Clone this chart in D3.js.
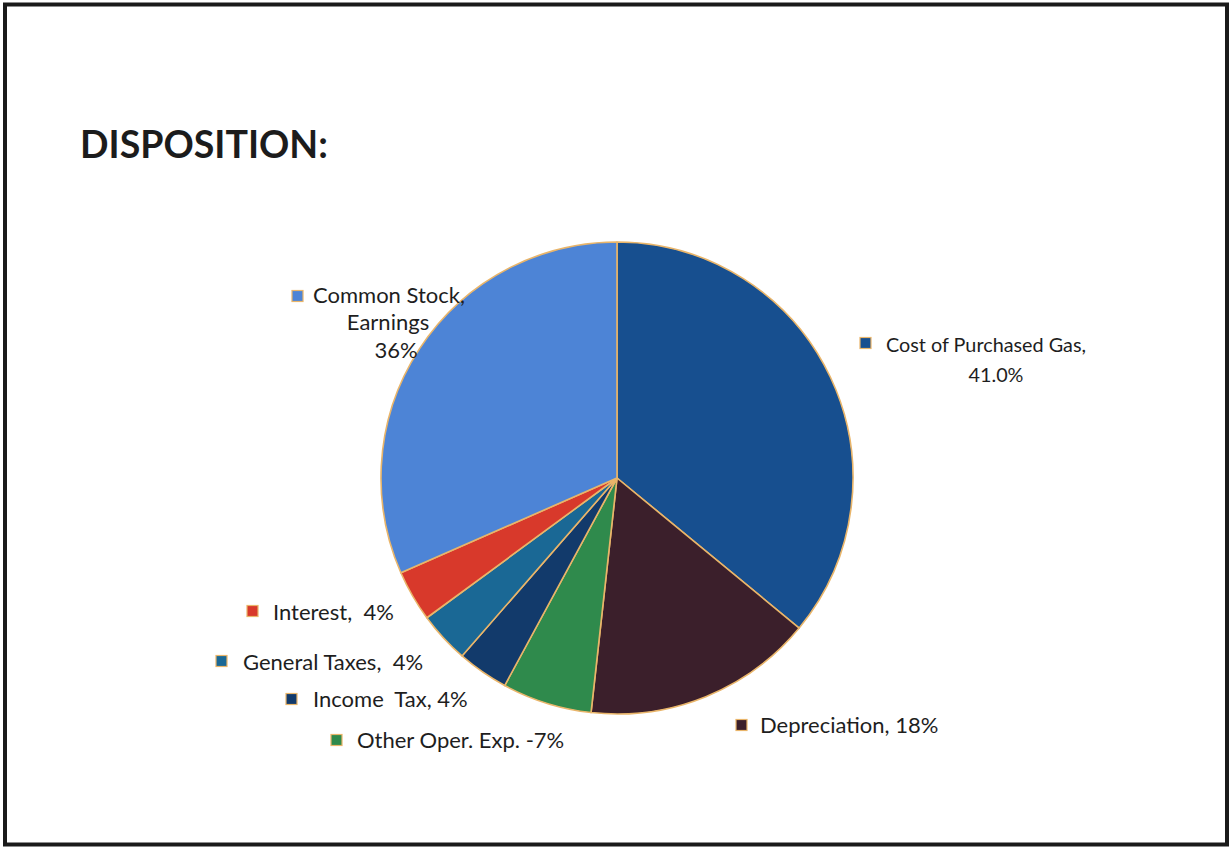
<!DOCTYPE html>
<html>
<head>
<meta charset="utf-8">
<script src="https://cdn.jsdelivr.net/npm/d3@7"></script>
<style>
  html, body { margin: 0; padding: 0; background: #fff; }
  svg { display: block; }
</style>
</head>
<body>
<div id="chart"></div>
<script>
// data (labels show the printed percentages)
const categories = [
  "Cost of Purchased Gas",
  "Depreciation",
  "Other Oper. Exp.",
  "Income Tax",
  "General Taxes",
  "Interest",
  "Common Stock, Earnings"
];
const values = [41, 18, 7, 4, 4, 4, 36];
const labelTexts = [
  ["Cost of Purchased Gas,", "41.0%"],
  ["Depreciation, 18%"],
  ["Other Oper. Exp. -7%"],
  ["Income  Tax, 4%"],
  ["General Taxes,  4%"],
  ["Interest,  4%"],
  ["Common Stock,", "Earnings", "36%"]
];
const colors = ["#174f8f", "#3b1f2b", "#2f8a4c", "#123a6b", "#1a6895", "#d8392b", "#4d84d6"];

// layout
const width = 1231,
  height = 850,
  cx = 617,
  cy = 478,
  radius = 236,
  fontFamily = "Lato, 'Open Sans', sans-serif";

// label layout: marker position, font size and text lines
const labelLayout = [
  { mx: 860, my: 343, fs: 19.8, lines: [{ x: 886, y: 352, anchor: "start" }, { x: 996, y: 382, anchor: "middle" }] },
  { mx: 736, my: 725, fs: 22, lines: [{ x: 760, y: 733, anchor: "start" }] },
  { mx: 331, my: 740, fs: 22, lines: [{ x: 357, y: 748, anchor: "start" }] },
  { mx: 286, my: 699, fs: 22, lines: [{ x: 313, y: 707, anchor: "start" }] },
  { mx: 216, my: 661, fs: 22, lines: [{ x: 243, y: 670, anchor: "start" }] },
  { mx: 247, my: 611, fs: 22, lines: [{ x: 273, y: 620, anchor: "start" }] },
  { mx: 292, my: 296, fs: 22, lines: [{ x: 313, y: 303, anchor: "start" }, { x: 388, y: 330, anchor: "middle" }, { x: 396, y: 358, anchor: "middle" }] }
];

const svg = d3
  .select("#chart")
  .append("svg")
  .attr("width", width)
  .attr("height", height)
  .attr("viewBox", [0, 0, width, height]);

// page frame
svg
  .append("rect")
  .attr("x", 5)
  .attr("y", 4.5)
  .attr("width", 1222)
  .attr("height", 840)
  .attr("fill", "#fff")
  .attr("stroke", "#1a1a1a")
  .attr("stroke-width", 4);

// title
svg
  .append("text")
  .attr("x", 80)
  .attr("y", 158)
  .attr("font-family", fontFamily)
  .attr("font-weight", 700)
  .attr("font-size", 37.5)
  .attr("fill", "#1c1c1c")
  .text("DISPOSITION:");

const pie = d3.pie().sort(null).value((d) => d);
const arcs = pie(values);
const arc = d3.arc().innerRadius(0).outerRadius(radius);

const g = svg.append("g").attr("transform", `translate(${cx},${cy})`);

g.selectAll("path")
  .data(arcs)
  .join("path")
  .attr("d", arc)
  .attr("fill", (d, i) => colors[i])
  .attr("stroke", "#e9b56a")
  .attr("stroke-width", 1.6)
  .attr("stroke-linejoin", "round");

// labels
const labels = svg
  .append("g")
  .selectAll("g")
  .data(d3.range(categories.length))
  .join("g");

labels
  .append("rect")
  .attr("x", (i) => labelLayout[i].mx)
  .attr("y", (i) => labelLayout[i].my - 5.5)
  .attr("width", 11)
  .attr("height", 11)
  .attr("fill", (i) => colors[i])
  .attr("stroke", "#e9b56a")
  .attr("stroke-width", 1.2);

labels.each(function (i) {
  const sel = d3.select(this);
  labelTexts[i].forEach((t, k) => {
    const p = labelLayout[i].lines[k];
    sel
      .append("text")
      .attr("x", p.x)
      .attr("y", p.y)
      .attr("text-anchor", p.anchor)
      .attr("font-family", fontFamily)
      .attr("font-size", labelLayout[i].fs)
      .attr("fill", "#1e1e1e")
      .style("white-space", "pre")
      .text(t);
  });
});
</script>
</body>
</html>
